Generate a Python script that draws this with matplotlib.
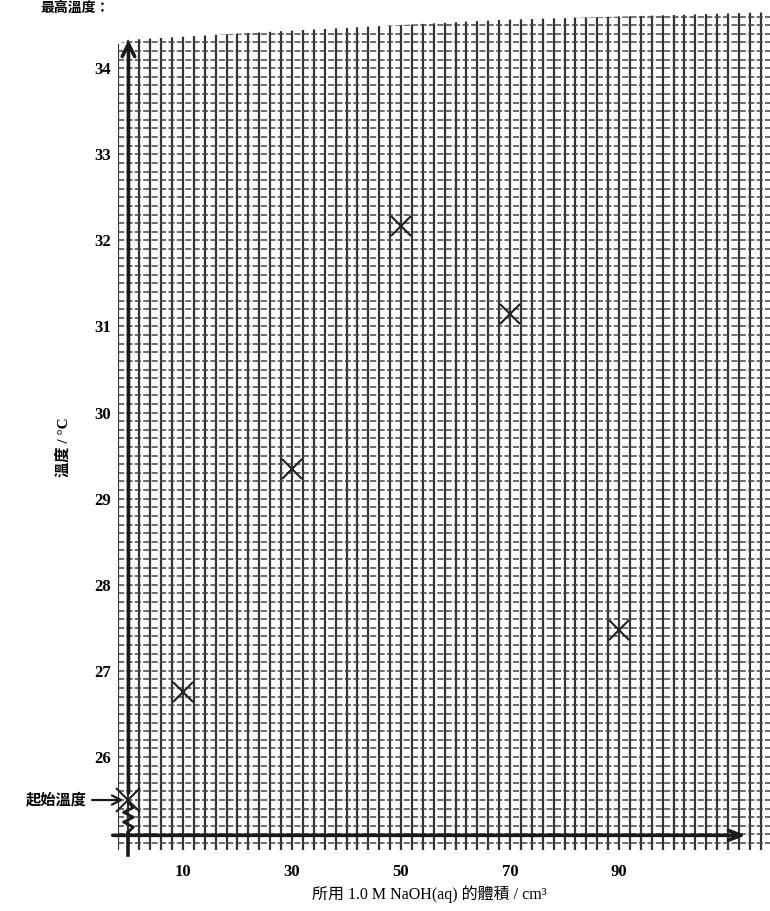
import numpy as np
import matplotlib
matplotlib.use("Agg")
import matplotlib.pyplot as plt
from matplotlib.patches import Polygon

plt.rcParams['font.family'] = ['Liberation Serif', 'Noto Sans CJK TC']

# readings
vol = [0, 10, 30, 50, 70, 90]
temp = [25.5, 26.75, 29.35, 32.17, 31.14, 27.48]
y_ticks = [26, 27, 28, 29, 30, 31, 32, 33, 34]
x_ticks = [10, 30, 50, 70, 90]
x_label = "所用 1.0 M NaOH(aq) 的體積 / cm³"
y_label = "溫度 / °C"
title = "最高溫度："
start_label = "起始溫度"

fig = plt.figure(figsize=(7.7, 9.11), dpi=100)
ax = fig.add_axes([0.1532, 0.067, 0.8468, 0.9243])
ax.set_xlim(-1.93, 117.7)
ax.set_ylim(24.92, 34.70)
for s in ax.spines.values():
    s.set_visible(False)

# graph paper, top edge is a bit wavy on the scan
paper = Polygon([(-1.93, 24.92), (-1.93, 34.28), (0, 34.33), (31, 34.44),
                 (68, 34.56), (117.7, 34.65), (117.7, 24.92)],
                closed=True, transform=ax.transData, fill=False, lw=0)
ax.add_patch(paper)
vx = np.arange(-2, 118, 2)
hy = np.arange(24.9, 34.71, 0.1)
vl = ax.vlines(vx, 24.92, 34.7, color='#333333', lw=1.6, zorder=1)
hl = ax.hlines(hy, -1.93, 117.7, color='#444444', lw=1.1,
               linestyles=(0, (4, 1.5)), zorder=1)
vl.set_clip_path(paper)
hl.set_clip_path(paper)

# ticks
ax.set_yticks(y_ticks)
ax.set_yticklabels([str(t) for t in y_ticks], fontsize=12, fontweight='bold')
ax.set_xticks(x_ticks)
ax.set_xticklabels([str(t) for t in x_ticks], fontsize=12, fontweight='bold')
ax.tick_params(axis='y', length=0, pad=5)
ax.tick_params(axis='x', length=0, pad=10)

# axes drawn by hand with arrows
ax.annotate('', xy=(0, 34.36), xytext=(0, 25.55), annotation_clip=False,
            arrowprops=dict(arrowstyle='->,head_length=0.9,head_width=0.45',
                            lw=2.6, color='#1a1a1a'))
ax.plot([0, 0], [25.12, 24.86], color='#1a1a1a', lw=2.6, clip_on=False)
zz_y = np.linspace(25.47, 25.13, 7)
zz_x = [0, 0.9, -0.9, 0.9, -0.9, 0.9, 0]
ax.plot(zz_x, zz_y, color='#1a1a1a', lw=2.0, clip_on=False)
ax.annotate('', xy=(113.8, 25.09), xytext=(-3.4, 25.09), annotation_clip=False,
            arrowprops=dict(arrowstyle='->,head_length=0.9,head_width=0.35',
                            lw=2.6, color='#1a1a1a'))

# data points
ax.plot(vol[1:], temp[1:], linestyle='none', marker='x', markersize=14,
        mew=1.5, color='#222222', zorder=5)
ax.plot(vol[0], temp[0], linestyle='none', marker='x', markersize=17,
        mew=1.5, color='#222222', zorder=5, clip_on=False)

# start temperature note
ax.annotate(start_label, xy=(-0.4, temp[0]), xytext=(-7.7, temp[0]),
            ha='right', va='center', fontsize=11, fontweight='bold',
            annotation_clip=False,
            arrowprops=dict(arrowstyle='->,head_length=0.6,head_width=0.3',
                            lw=1.6, color='#1a1a1a'))

ax.text(-12.0, 29.6, y_label, rotation=90, ha='center', va='center',
        fontsize=11, fontweight='bold')
fig.text(0.558, 0.018, x_label, ha='center', va='center', fontsize=11.5)
fig.text(0.052, 0.991, title, ha='left', va='center', fontsize=10,
         fontweight='bold')

fig.savefig('out.png', dpi=100, facecolor='white')
